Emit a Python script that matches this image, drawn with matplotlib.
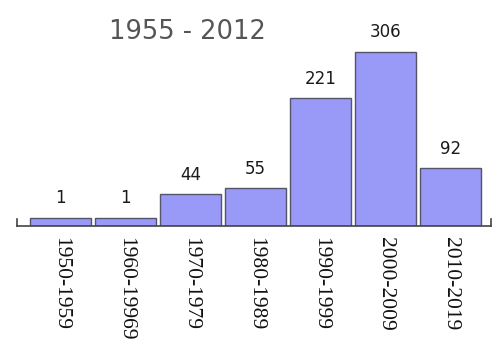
import matplotlib
matplotlib.use("Agg")
import matplotlib.pyplot as plt

decades = ["1950-1959", "1960-19969", "1970-1979", "1980-1989",
           "1990-1999", "2000-2009", "2010-2019"]
counts = [1, 1, 44, 55, 221, 306, 92]
title = "1955 - 2012"

bar_color = "#9999f7"
edge_color = "#55556a"
y_floor = -14  # bars start a little below zero, like the original

plt.rcParams["font.serif"] = ["Liberation Serif", "DejaVu Serif"]

fig = plt.figure(figsize=(5.01, 3.41), dpi=100)
ax = fig.add_axes([17 / 501, 115 / 341, 474 / 501, 216 / 341])

x = list(range(len(decades)))
heights = [c - y_floor for c in counts]
ax.bar(x, heights, bottom=y_floor, width=0.94, color=bar_color,
       edgecolor=edge_color, linewidth=1.0, zorder=2)

ax.set_xlim(-0.67, 6.62)
ax.set_ylim(y_floor, 383)

for xi, c in zip(x, counts):
    ax.annotate(str(c), (xi, c), xytext=(0, 14), textcoords="offset points",
                ha="center", va="center", fontsize=12, color="#1a1a1a",
                family="DejaVu Sans")

# axis line with small end ticks
for s in ["top", "right", "left"]:
    ax.spines[s].set_visible(False)
ax.spines["bottom"].set_color("#444444")
ax.spines["bottom"].set_linewidth(1.2)
ax.set_yticks([])
ax.plot([-0.67, -0.67], [y_floor, y_floor + 12], color="#444444", lw=1.2,
        clip_on=False)
ax.plot([6.62, 6.62], [y_floor, y_floor + 12], color="#444444", lw=1.2,
        clip_on=False)

ax.set_xticks(x)
ax.set_xticklabels(decades, rotation=270, fontsize=15.5,
                   family="serif", color="#111111")
ax.tick_params(axis="x", length=0, pad=8)

fig.text(109 / 501, 1 - 32 / 341, title, fontsize=18.5, color="#555555",
         ha="left", va="center", family="DejaVu Sans")

fig.savefig("out.png", dpi=100)
